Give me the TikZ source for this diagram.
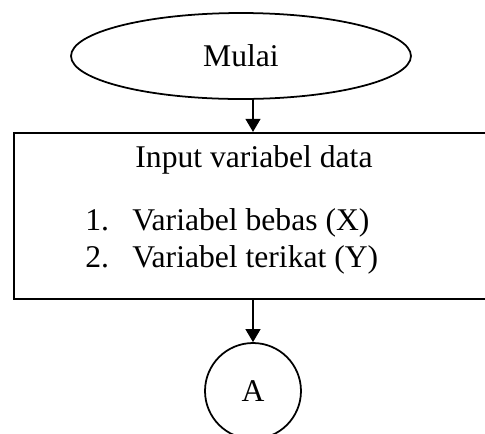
\documentclass[tikz,border=0pt]{standalone}
\usepackage{fontspec}
\setmainfont{Liberation Serif}
\usetikzlibrary{shapes.geometric,arrows.meta}

\begin{document}
\begin{tikzpicture}[x=0.02cm,y=-0.02cm,
    every node/.style={font=\fontsize{18}{22}\selectfont},
    terminal/.style={draw,ellipse,line width=1pt,minimum width=6.8cm,minimum height=1.72cm,inner sep=0pt},
    proses/.style={draw,rectangle,line width=1.3pt,minimum width=10.4cm,minimum height=3.32cm},
    konektor/.style={draw,circle,line width=1pt,minimum size=1.92cm,inner sep=0pt},
    teks/.style={inner sep=0pt},
    panah/.style={-{Triangle[length=0.26cm,width=0.3cm]},line width=0.6pt}]
    \useasboundingbox (0,0) rectangle (485,434);
    \clip (0,0) rectangle (485,434);

    \node[terminal] (mulai) at (241,56) {Mulai};
    \node[proses,anchor=west] (input) at (13,216) {};
    \node[konektor] (a) at (253,391) {A};

    % isi kotak input
    \node[teks,anchor=base] (judul) at (254,167) {Input variabel data};
    \node[teks,anchor=base west] (no1) at (85,230) {1.};
    \node[teks,anchor=base west] (var1) at (132,230) {Variabel bebas (X)};
    \node[teks,anchor=base west] (no2) at (85,267) {2.};
    \node[teks,anchor=base west] (var2) at (132,267) {Variabel terikat (Y)};

    \draw[panah] (mulai.south -| a.north) -- (input.north -| a.north);
    \draw[panah] (input.south -| a.north) -- (a.north);
\end{tikzpicture}
\end{document}
